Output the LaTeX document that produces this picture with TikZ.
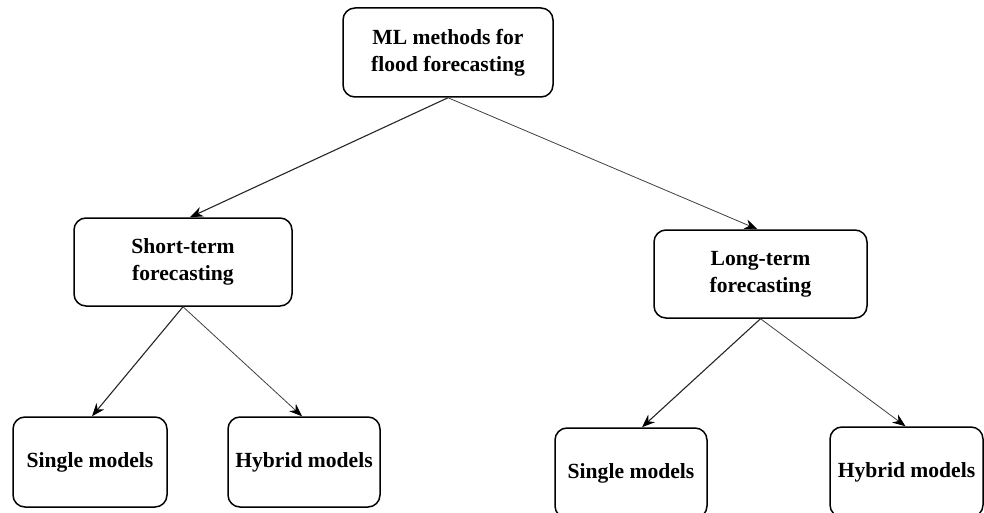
\documentclass[tikz,border=0pt]{standalone}
\usepackage{fontspec}
\setmainfont{Liberation Serif}
\usetikzlibrary{arrows.meta}
\begin{document}
\begin{tikzpicture}[x=1pt,y=-1pt,
  box/.style={draw=black,line width=1.5pt,rounded corners=12pt,align=center,
    font=\bfseries\fontsize{21.6}{27}\selectfont,inner sep=0pt,fill=white},
  link/.style={line width=1.1pt,draw=black!85,-{Stealth[length=13pt,width=10pt,color=black]}},
  linkthin/.style={line width=0.8pt,draw=black!75,-{Stealth[length=13pt,width=10pt,color=black]}}]
\clip (0,0) rectangle (984,513);
\fill[white] (0,0) rectangle (984,513);
\node[box,minimum width=210pt,minimum height=89pt] (top) at (448,52.5) {ML methods for\\flood forecasting};
\node[box,minimum width=218pt,minimum height=88pt] (short) at (183,262) {Short-term\\forecasting};
\node[box,minimum width=213pt,minimum height=88pt] (long) at (760.5,274) {Long-term\\forecasting};
\node[box,minimum width=154pt,minimum height=90pt] (sl) at (90,462) {Single models};
\node[box,minimum width=152pt,minimum height=90pt] (hl) at (304,462) {Hybrid models};
\node[box,minimum width=152pt,minimum height=90pt] (sr) at (631,473) {Single models};
\node[box,minimum width=153pt,minimum height=90pt] (hr) at (906.5,472) {Hybrid models};
\draw[link] (top.south) -- ([xshift=7pt]short.north);
\draw[linkthin] (top.south) -- ([xshift=-3pt]long.north);
\draw[link] (short.south) -- ([xshift=2pt]sl.north);
\draw[linkthin] (short.south) -- ([xshift=-2pt]hl.north);
\draw[link] (long.south) -- ([xshift=11pt]sr.north);
\draw[linkthin] (long.south) -- ([xshift=-1pt]hr.north);
\end{tikzpicture}
\end{document}
